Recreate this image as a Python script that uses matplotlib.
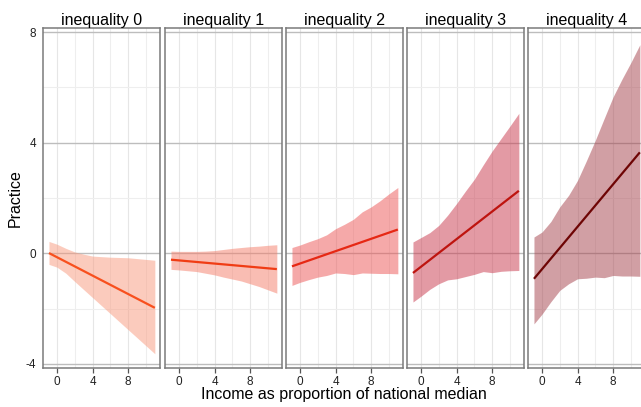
import matplotlib
matplotlib.use("Agg")
import matplotlib.pyplot as plt
from matplotlib.ticker import MultipleLocator

plt.rcParams['font.family'] = ['Liberation Sans', 'DejaVu Sans']

titles = ["inequality 0", "inequality 1", "inequality 2", "inequality 3", "inequality 4"]
x_grid = [-0.9, 0, 1, 2, 3, 4, 5, 6, 7, 8, 9, 10, 11]
line_x = [-0.9, 11]

upper = [
    [0.43, 0.33, 0.18, 0.05, -0.03, -0.10, -0.12, -0.14, -0.15, -0.16, -0.19, -0.22, -0.25],
    [0.08, 0.07, 0.07, 0.07, 0.08, 0.10, 0.14, 0.18, 0.21, 0.24, 0.26, 0.29, 0.31],
    [0.21, 0.30, 0.42, 0.53, 0.67, 0.89, 1.05, 1.23, 1.50, 1.68, 1.90, 2.15, 2.38],
    [0.41, 0.57, 0.75, 1.01, 1.38, 1.80, 2.25, 2.68, 3.20, 3.70, 4.15, 4.60, 5.06],
    [0.59, 0.77, 1.15, 1.68, 2.10, 2.64, 3.35, 4.09, 4.88, 5.66, 6.30, 6.90, 7.54],
]
lower = [
    [-0.40, -0.50, -0.72, -1.02, -1.31, -1.60, -1.89, -2.18, -2.47, -2.76, -3.05, -3.34, -3.63],
    [-0.58, -0.60, -0.63, -0.66, -0.72, -0.78, -0.86, -0.93, -1.00, -1.10, -1.20, -1.32, -1.44],
    [-1.16, -1.05, -0.95, -0.86, -0.80, -0.71, -0.73, -0.77, -0.71, -0.72, -0.73, -0.73, -0.74],
    [-1.76, -1.55, -1.30, -1.10, -0.96, -0.92, -0.84, -0.76, -0.66, -0.70, -0.65, -0.63, -0.62],
    [-2.55, -2.20, -1.75, -1.34, -1.10, -0.92, -0.90, -0.86, -0.88, -0.80, -0.82, -0.82, -0.83],
]
fit = [
    [0.01, -1.97],
    [-0.23, -0.57],
    [-0.47, 0.86],
    [-0.71, 2.26],
    [-0.92, 3.65],
]
line_colors = ["#f8501e", "#f03c14", "#e62814", "#be140f", "#6e0505"]
fill_colors = ["#f9997d", "#f57d69", "#ed5555", "#c9374b", "#a5414b"]

x_ticks = [0, 4, 8]
y_ticks = [-4, 0, 4, 8]
y_tick_labels = ["-4", "0", "4", "8"]

W, H = 641, 407
fig = plt.figure(figsize=(W / 100, H / 100), dpi=100)
lefts = [43, 165, 286, 407, 528]
pw = 117
bottom_px, top_px = 368, 28

for i, L in enumerate(lefts):
    ax = fig.add_axes([L / W, 1 - bottom_px / H, pw / W, (bottom_px - top_px) / H])
    ax.set_xlim(-1.57, 11.58)
    ax.set_ylim(-4.145, 8.145)
    ax.set_axisbelow(True)
    ax.xaxis.set_major_locator(MultipleLocator(4))
    ax.xaxis.set_minor_locator(MultipleLocator(2))
    ax.yaxis.set_minor_locator(MultipleLocator(2))
    ax.set_xticks(x_ticks)
    ax.set_yticks(y_ticks)
    ax.grid(True, which='major', axis='y', color='#bdbdbd', lw=1.0)
    ax.grid(True, which='minor', axis='y', color='#eeeeee', lw=0.8)
    ax.grid(True, which='major', axis='x', color='#e6e6e6', lw=0.8)
    ax.grid(True, which='minor', axis='x', color='#eeeeee', lw=0.8)
    ax.tick_params(which='minor', length=0)
    ax.tick_params(axis='x', which='major', length=3.5, width=0.9, color='#555555',
                   labelsize=8.5, labelcolor='#222222', pad=2)
    ax.tick_params(axis='y', which='major', length=0, labelsize=8.5, labelcolor='#222222', pad=5)
    if i == 0:
        ax.set_yticklabels(y_tick_labels)
    else:
        ax.set_yticklabels([])
    for s in ax.spines.values():
        s.set_color('#7a7a7a')
        s.set_linewidth(1.1)
    ax.fill_between(x_grid, lower[i], upper[i], color=fill_colors[i], alpha=0.5, lw=0)
    ax.plot(line_x, fit[i], color=line_colors[i], lw=1.6, solid_capstyle='butt')
    ax.set_title(titles[i], fontsize=11.5, pad=2)

fig.text(0.537, 1 - 395 / H, "Income as proportion of national median", ha='center', va='center',
         fontsize=11.5)
fig.text(15 / W, 1 - 198 / H, "Practice", rotation=90, ha='center', va='center', fontsize=11.5)

fig.savefig("out.png", dpi=100)
